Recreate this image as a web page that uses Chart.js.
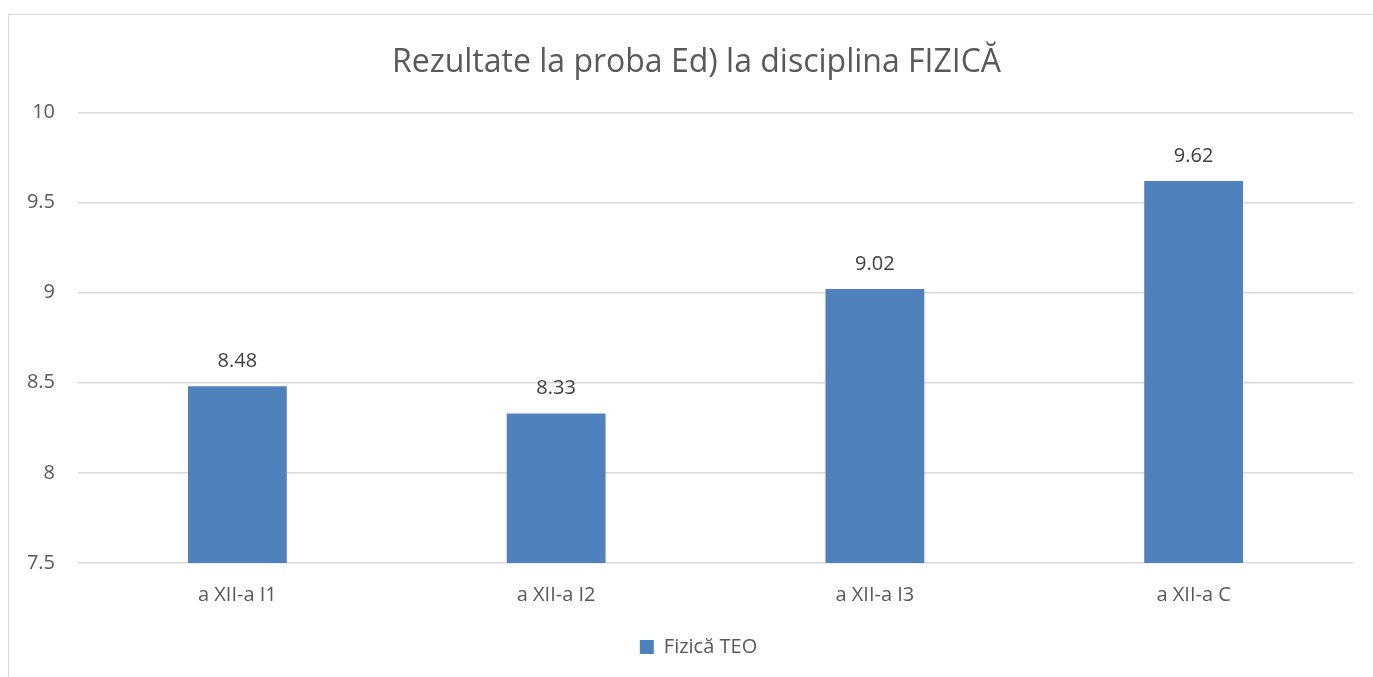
<!DOCTYPE html>
<html>
<head>
<meta charset="utf-8">
<script src="https://cdn.jsdelivr.net/npm/chart.js@4/dist/chart.umd.min.js"></script>
<style>
  body { margin: 0; background: #fff; overflow: hidden; }
  #frame { position: absolute; left: 8px; top: 14px; width: 1400px; height: 700px; border: 1px solid #d9d9d9; }
  #chart { position: absolute; left: 0; top: 0; }
</style>
</head>
<body>
<div id="frame"></div>
<canvas id="chart" width="1373" height="677"></canvas>
<script>
// data
var classes = ['a XII-a I1', 'a XII-a I2', 'a XII-a I3', 'a XII-a C'];
var fizicaTeo = [8.48, 8.33, 9.02, 9.62];
var seriesName = 'Fizică TEO';
var chartTitle = 'Rezultate la proba Ed) la disciplina FIZICĂ';

var FONT = '"Open Sans", Lato, sans-serif';

// value labels above bars
var valueLabels = {
    id: 'valueLabels',
    afterDatasetsDraw: function (chart) {
        var ctx = chart.ctx;
        var meta = chart.getDatasetMeta(0);
        ctx.save();
        ctx.fillStyle = '#404040';
        ctx.font = '20px ' + FONT;
        ctx.textAlign = 'center';
        ctx.textBaseline = 'middle';
        meta.data.forEach(function (bar, i) {
            ctx.fillText(chart.data.datasets[0].data[i].toFixed(2), bar.x, bar.y - 25);
        });
        ctx.restore();
    }
};

// title and legend are centred on the whole frame, not the plot, so nudge their boxes
var centreBlocks = {
    id: 'centreBlocks',
    afterLayout: function (chart) {
        if (chart.titleBlock) chart.titleBlock.left += 40;
        if (chart.legend) chart.legend.left += 44;
    }
};

var ctx = document.getElementById('chart').getContext('2d');
var physicsChart = new Chart(ctx, {
    type: 'bar',
    data: {
        labels: classes,
        datasets: [{
            label: seriesName,
            data: fizicaTeo,
            backgroundColor: '#4f81bd',
            borderWidth: 0,
            barPercentage: 0.31,
            categoryPercentage: 1
        }]
    },
    options: {
        responsive: false,
        animation: false,
        layout: { padding: { top: 0, right: 20, bottom: 10, left: 0 } },
        plugins: {
            title: {
                display: true,
                text: chartTitle,
                color: '#595959',
                font: { family: FONT, size: 32, weight: 'normal' },
                padding: { top: 44, bottom: 30 }
            },
            legend: {
                position: 'bottom',
                labels: {
                    color: '#595959',
                    font: { family: FONT, size: 20 },
                    boxWidth: 14,
                    boxHeight: 14,
                    padding: 10
                }
            },
            tooltip: { enabled: false }
        },
        scales: {
            x: {
                grid: { display: false, drawTicks: false },
                border: { display: false },
                ticks: { color: '#595959', font: { family: FONT, size: 20 }, padding: 20 },
                afterFit: function (scale) { scale.height = 64; }
            },
            y: {
                min: 7.5,
                max: 10,
                ticks: {
                    stepSize: 0.5,
                    color: '#595959',
                    font: { family: FONT, size: 20 },
                    padding: 23,
                    callback: function (v) { return String(v); }
                },
                grid: { color: '#d9d9d9', lineWidth: 1.5, drawTicks: false },
                border: { display: false },
                afterFit: function (scale) { scale.width = 78; }
            }
        }
    },
    plugins: [valueLabels, centreBlocks]
});
</script>
</body>
</html>
